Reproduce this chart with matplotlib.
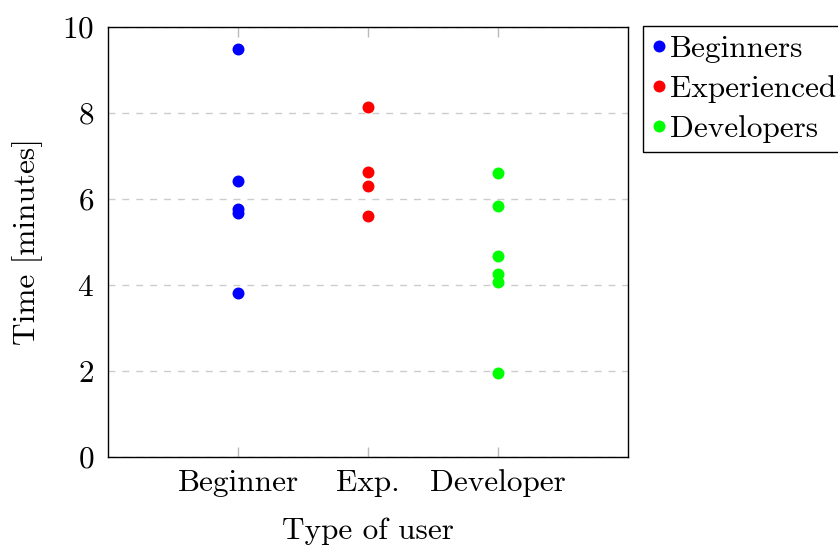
import matplotlib
matplotlib.use("Agg")
import matplotlib.pyplot as plt

plt.rcParams['font.family'] = ['cmr10', 'DejaVu Serif']
plt.rcParams['mathtext.fontset'] = 'cm'
plt.rcParams['axes.unicode_minus'] = False
plt.rcParams['axes.formatter.use_mathtext'] = True

# user groups and measured times (minutes)
categories = ['Beginner', 'Exp.', 'Developer']
series_names = ['Beginners', 'Experienced', 'Developers']
colors = ['#0000ff', '#ff0000', '#00ff00']

beginners = [9.48, 6.43, 5.76, 5.67, 3.82]
experienced = [8.13, 6.63, 6.31, 5.61]
developers = [6.61, 5.84, 4.67, 4.26, 4.07, 1.96]

y_ticks = [0, 2, 4, 6, 8, 10]
FS = 22.5

fig = plt.figure(figsize=(8.38, 5.49), dpi=100)
ax = fig.add_axes([108 / 838, 1 - 457 / 549, 520 / 838, 430 / 549])

for i, (vals, name, c) in enumerate(zip([beginners, experienced, developers],
                                        series_names, colors)):
    ax.plot([i + 1] * len(vals), vals, 'o', color=c, markersize=8.6,
            markeredgewidth=0, label=name, zorder=3)

ax.set_xlim(0, 4)
ax.set_ylim(0, 10)
ax.set_xticks([1, 2, 3])
ax.set_xticklabels(categories)
ax.set_yticks(y_ticks)

ax.yaxis.grid(True, linestyle=(0, (5, 5)), color='#cccccc', linewidth=1)
ax.set_axisbelow(True)

ax.tick_params(axis='x', direction='in', length=7, width=1, color='#bbbbbb',
               top=True, labelsize=FS, pad=9)
ax.tick_params(axis='y', direction='in', length=0, labelsize=FS, pad=10)
for s in ax.spines.values():
    s.set_linewidth(1)
    s.set_color('black')

ax.set_xlabel('Type of user', fontsize=FS, labelpad=14)
ax.set_ylabel('Time [minutes]', fontsize=FS, labelpad=14)

leg = fig.legend(loc='upper left', bbox_to_anchor=(643 / 838, 1 - 26 / 549),
                 borderaxespad=0, fontsize=FS, handlelength=0.45,
                 handletextpad=0.12, borderpad=0.3, labelspacing=0.38,
                 fancybox=False, edgecolor='black', framealpha=1,
                 markerscale=1)
leg.get_frame().set_linewidth(1)

fig.savefig('out.png', dpi=100)
